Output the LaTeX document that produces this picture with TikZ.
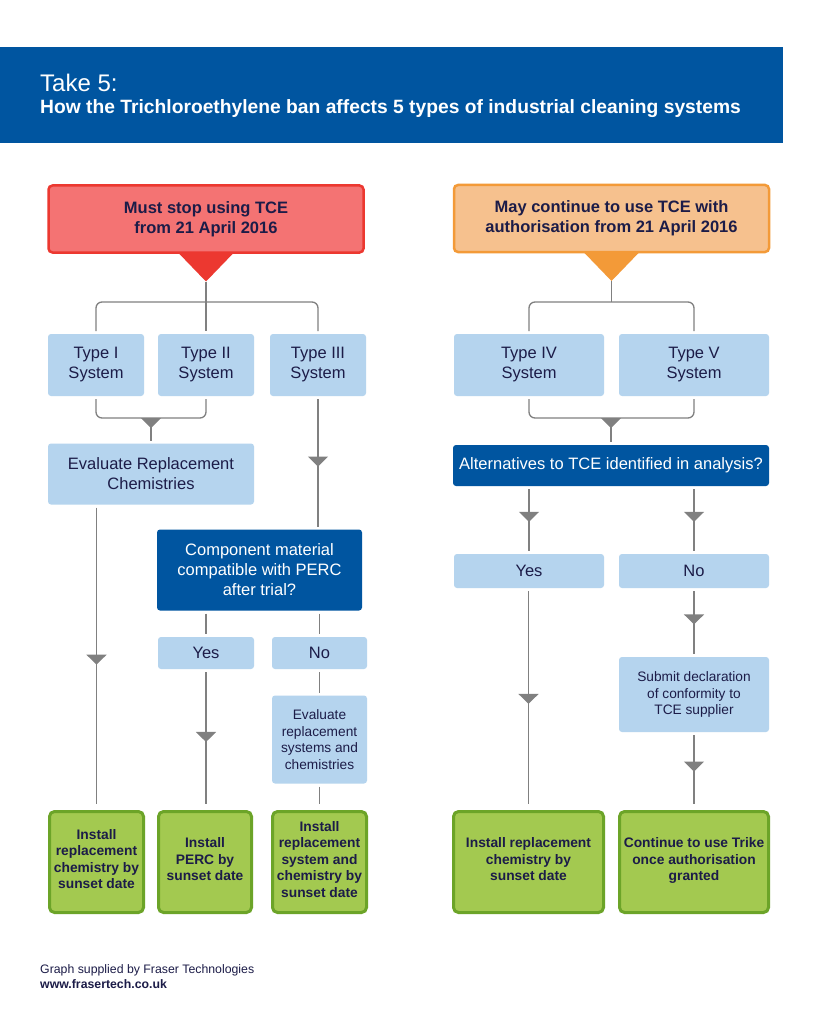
\documentclass[tikz,border=0pt]{standalone}
\usepackage{fontspec}
\setmainfont{Liberation Sans}
\usetikzlibrary{positioning,arrows.meta,decorations.markings}
\definecolor{bandblue}{RGB}{0,85,160}
\definecolor{boxblue}{RGB}{181,212,238}
\definecolor{inknavy}{RGB}{28,28,72}
\definecolor{linegray}{RGB}{128,128,128}
\definecolor{stopfill}{RGB}{244,115,115}
\definecolor{stopdraw}{RGB}{236,56,48}
\definecolor{mayfill}{RGB}{246,193,142}
\definecolor{maydraw}{RGB}{243,154,56}
\definecolor{donefill}{RGB}{163,201,80}
\definecolor{donedraw}{RGB}{108,164,40}
\tikzset{
  link/.style={draw=linegray, line width=1.3pt},
  midtip/.style={
    postaction={decorate},
    decoration={markings,
      mark=at position #1 with {\arrow{Triangle[width=20pt,length=10pt]}}}
  },
  midtip/.default=0.53,
  typebox/.style={
    rectangle,
    rounded corners=3pt,
    fill=boxblue,
    text=inknavy,
    align=center,
    inner sep=0pt,
    outer sep=3pt,
    font=\fontsize{16.5}{20}\selectfont
  },
  sysbox/.style={typebox, minimum width=96pt, minimum height=62pt},
  smallbox/.style={typebox, font=\fontsize{13.7}{16.5}\selectfont},
  question/.style={typebox, fill=bandblue, text=white},
  headbox/.style={
    rectangle,
    rounded corners=4pt,
    line width=2.5pt,
    align=center,
    text=inknavy,
    inner sep=0pt,
    outer sep=0pt,
    minimum width=315pt,
    minimum height=67pt,
    font=\bfseries\fontsize{16.5}{20}\selectfont
  },
  outcome/.style={
    rectangle,
    rounded corners=5pt,
    draw=donedraw,
    fill=donefill,
    line width=3pt,
    align=center,
    text=inknavy,
    inner sep=0pt,
    outer sep=7.5pt,
    minimum height=101pt,
    execute at end node={\rule[-6pt]{0pt}{6pt}},
    font=\bfseries\fontsize{13.8}{16.5}\selectfont
  }
}
\begin{document}
\begin{tikzpicture}[x=1pt, y=1pt]

\fill[white] (0,0) rectangle (818,-1024);
\useasboundingbox (0,0) rectangle (818,-1024);

% Title band
\node[fill=bandblue, anchor=north west, inner sep=0pt,
  minimum width=783pt, minimum height=96pt] (band) at (0,-47) {};
\node[anchor=base west, inner sep=0pt, text=white,
  font=\fontsize{24}{28}\selectfont] (title) at (40,-92) {Take 5:};
\node[anchor=base west, inner sep=0pt, text=white,
  font=\bfseries\fontsize{19.25}{22}\selectfont] (subtitle) at (40,-114)
  {How the Trichloroethylene ban affects 5 types of industrial cleaning systems};

% Headline boxes
\node[headbox, draw=stopdraw, fill=stopfill] (stop) at (206,-219)
  {Must stop using TCE\\from 21 April 2016};
\node[headbox, draw=maydraw, fill=mayfill] (may) at (611.5,-218.5)
  {May continue to use TCE with\\authorisation from 21 April 2016};

\fill[stopdraw] ([xshift=-28pt]stop.south) -- ([xshift=28pt]stop.south)
  -- ([yshift=-29pt]stop.south) coordinate (stoptip) -- cycle;
\fill[maydraw] ([xshift=-28pt]may.south) -- ([xshift=28pt]may.south)
  -- ([yshift=-29pt]may.south) coordinate (maytip) -- cycle;

% System types
\node[sysbox] (t1) at (96,-365) {Type I\\System};
\node[sysbox, right=8pt of t1] (t2) {Type II\\System};
\node[sysbox, right=10pt of t2] (t3) {Type III\\System};
\node[typebox, minimum width=150pt, minimum height=62pt] (t4) at (529,-365)
  {Type IV\\System};
\node[typebox, minimum width=150pt, minimum height=62pt, right=9pt of t4] (t5)
  {Type V\\System};

% Left branch
\node[typebox, minimum width=206pt, minimum height=61pt] (evalchem) at (151,-474)
  {Evaluate Replacement\\Chemistries};
\node[question, minimum width=205pt, minimum height=81pt] (dec) at (259.5,-570)
  {Component material\\compatible with PERC\\after trial?};
\node[typebox, minimum width=96pt, minimum height=32pt] (yes1) at (206,-653) {Yes};
\node[typebox, minimum width=95pt, minimum height=32pt] (no1) at (319.5,-653) {No};
\node[smallbox, minimum width=95pt, minimum height=88pt] (evalsys) at (319.5,-739.5)
  {Evaluate\\replacement\\systems and\\chemistries};

\node[outcome, minimum width=94pt] (g1) at (96.5,-862)
  {Install\\replacement\\chemistry by\\sunset date};
\node[outcome, minimum width=93pt] (g2) at (205,-862)
  {Install\\PERC by\\sunset date};
\node[outcome, minimum width=94pt] (g3) at (319.5,-862)
  {Install\\replacement\\system and\\chemistry by\\sunset date};

% Right branch
\node[question, minimum width=316pt, minimum height=41pt] (alt) at (611,-465.5)
  {Alternatives to TCE identified in analysis?};
\node[typebox, minimum width=150pt, minimum height=34pt] (yes2) at (529,-571) {Yes};
\node[typebox, minimum width=150pt, minimum height=34pt] (no2) at (694,-571) {No};
\node[smallbox, minimum width=150pt, minimum height=75pt] (submit) at (694,-694.5)
  {Submit declaration\\of conformity to\\TCE supplier};

\node[outcome, minimum width=150pt] (g4) at (528.5,-862)
  {Install replacement\\chemistry by\\sunset date};
\node[outcome, minimum width=149pt] (g5) at (694,-862)
  {Continue to use Trike\\once authorisation\\granted};

% Forks below headline boxes
\coordinate (forkL) at (stoptip |- 0,-302);
\coordinate (forkR) at (maytip |- 0,-302);
\draw[link] (stoptip) -- (t2.north);
\draw[link, rounded corners=6pt] (t1.north) |- (forkL) -| (t3.north);
\draw[link] (maytip) -- (forkR);
\draw[link, rounded corners=6pt] (t4.north) |- (forkR) -| (t5.north);

% Joins below system types
\coordinate (joinL) at (evalchem.north |- 0,-418);
\coordinate (joinR) at (alt.north |- 0,-418);
\draw[link, rounded corners=6pt] (t1.south) |- (joinL) -| (t2.south);
\draw[link, midtip=10pt] (joinL) -- (evalchem);
\draw[link, rounded corners=6pt] (t4.south) |- (joinR) -| (t5.south);
\draw[link, midtip=10pt] (joinR) -- (alt);

% Left flow
\draw[link, midtip] (t3.south) -- (t3.south |- dec.north);
\draw[link, midtip] (evalchem.south -| g1) -- (g1);
\draw[link] (dec.south -| yes1) -- (yes1);
\draw[link] (dec.south -| no1) -- (no1);
\draw[link, midtip] (yes1) -- (yes1 |- g2.north);
\draw[link] (no1) -- (evalsys);
\draw[link] (evalsys) -- (g3);

% Right flow
\foreach \a/\b in {alt/yes2, alt/no2, yes2/g4, no2/submit, submit/g5}
  \draw[link, midtip] (\a.south -| \b) -- (\b);

% Credit
\node[anchor=base west, inner sep=0pt, text=inknavy,
  font=\fontsize{12.3}{14}\selectfont] (credit) at (40,-973)
  {Graph supplied by Fraser Technologies};
\node[anchor=base west, inner sep=0pt, text=inknavy,
  font=\bfseries\fontsize{12.3}{14}\selectfont] (url) at (40,-988)
  {www.frasertech.co.uk};

\end{tikzpicture}
\end{document}
